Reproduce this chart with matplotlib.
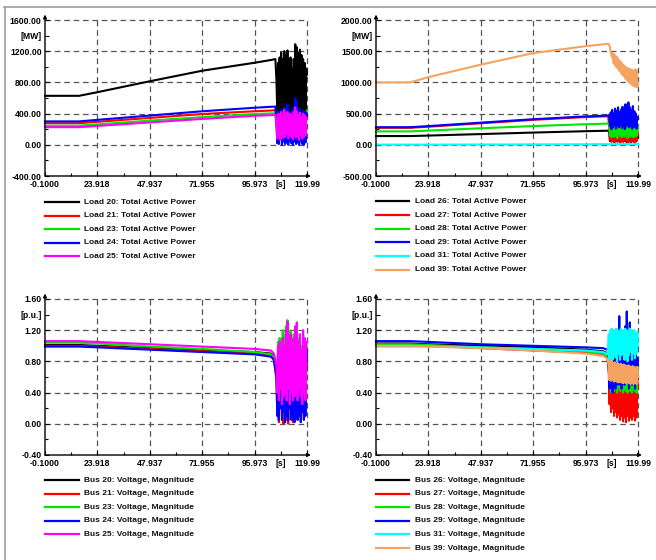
import numpy as np
import matplotlib
matplotlib.use('Agg')
import matplotlib.pyplot as plt
from matplotlib.lines import Line2D

plt.rcParams['font.family'] = ['Liberation Sans', 'DejaVu Sans']
FS = 6.0
FS_TICK = 6.2
W, H = 656, 560

# ---------------- shared axis data ----------------
X_TICKS = [-0.1, 23.918, 47.937, 71.955, 95.973, 119.99]
X_TICK_LABELS = ['-0.1000', '23.918', '47.937', '71.955', '95.973', '119.99']
X_UNIT = '[s]'
X_UNIT_POS = 107.98

COL_BLACK = '#000000'
COL_RED = '#ff0000'
COL_GREEN = '#00e600'
COL_BLUE = '#0000ff'
COL_MAGENTA = '#ff00ff'
COL_CYAN = '#00ffff'
COL_ORANGE = '#f4a460'

# ---------------- panel 1 : Load 20..25 active power ----------------
P1_YTICKS = [-400, 0, 400, 800, 1200, 1600]
P1_YLABELS = ['-400.00', '0.00', '400.00', '800.00', '1200.00', '1600.00']
P1_UNIT = '[MW]'
P1_UNIT_POS = 1400
P1_T_PRE = [-0.1, 15.5, 24.0, 48.0, 72.0, 96.0, 104.0, 105.5]
P1_OSC_START = 106.0
P1_NAMES = ['Load 20: Total Active Power', 'Load 21: Total Active Power',
            'Load 23: Total Active Power', 'Load 24: Total Active Power',
            'Load 25: Total Active Power']
P1_COLORS = [COL_BLACK, COL_RED, COL_GREEN, COL_BLUE, COL_MAGENTA]
load20_pre = [628, 628, 675, 815, 950, 1052, 1090, 1100]
load21_pre = [277, 277, 295, 345, 395, 430, 440, 445]
load23_pre = [245, 245, 262, 310, 355, 395, 403, 405]
load24_pre = [300, 300, 320, 375, 430, 475, 488, 490]
load25_pre = [226, 226, 242, 287, 332, 372, 380, 383]
load20_osc = [820, 420, 1050, 380, 1120, 450, 1180, 360, 1100, 420, 1200, 400, 1150, 380,
              1210, 440, 1060, 390, 1120, 420, 980, 370, 1100, 430, 1290, 400, 1250, 380,
              1180, 450, 1220, 410, 1150, 380, 1100, 430, 1050, 400, 980, 900]
load21_osc = [320, 120, 420, 100, 400, 150, 430, 110, 380, 130, 440, 100, 400, 140, 420,
              120, 380, 110, 420, 130, 360, 100, 430, 140, 460, 120, 440, 110, 400, 130,
              420, 100, 380, 120, 410, 110, 390, 130, 380, 370]
load23_osc = [300, 150, 400, 130, 380, 170, 410, 140, 360, 160, 420, 130, 380, 170, 400,
              150, 370, 140, 400, 160, 350, 130, 410, 170, 440, 150, 420, 140, 390, 160,
              410, 130, 380, 150, 400, 140, 390, 160, 430, 440]
load24_osc = [300, 20, 420, 10, 380, 60, 450, 0, 350, 40, 480, 10, 400, 30, 520, 0, 380,
              50, 430, 20, 360, 0, 480, 40, 600, 10, 550, 30, 420, 0, 460, 50, 390, 10,
              440, 0, 400, 30, 420, 380]
load25_osc = [250, 80, 400, 120, 380, 60, 420, 150, 350, 90, 450, 100, 380, 140, 420, 80,
              360, 130, 400, 100, 340, 70, 420, 120, 480, 90, 430, 110, 380, 60, 410, 130,
              360, 80, 400, 100, 380, 120, 350, 330]

# ---------------- panel 2 : Load 26..39 active power ----------------
P2_YTICKS = [-500, 0, 500, 1000, 1500, 2000]
P2_YLABELS = ['-500.00', '0.00', '500.00', '1000.00', '1500.00', '2000.00']
P2_UNIT = '[MW]'
P2_UNIT_POS = 1750
P2_T_PRE = [-0.1, 15.5, 24.0, 48.0, 72.0, 96.0, 104.0, 106.3]
P2_OSC_START = 106.8
P2_NAMES = ['Load 26: Total Active Power', 'Load 27: Total Active Power',
            'Load 28: Total Active Power', 'Load 29: Total Active Power',
            'Load 31: Total Active Power', 'Load 39: Total Active Power']
P2_COLORS = [COL_BLACK, COL_RED, COL_GREEN, COL_BLUE, COL_CYAN, COL_ORANGE]
load26_pre = [140, 140, 148, 172, 196, 218, 224, 226]
load27_pre = [272, 272, 290, 345, 400, 445, 455, 458]
load28_pre = [215, 215, 228, 265, 300, 330, 338, 340]
load29_pre = [282, 282, 300, 355, 410, 455, 465, 468]
load31_pre = [3, 3, 3, 5, 6, 8, 10, 10]
load39_pre = [1000, 1000, 1085, 1285, 1470, 1580, 1610, 1620]
load26_osc = [200, 60, 180, 50, 160, 80, 190, 40, 150, 70, 170, 50, 160, 60, 140, 40, 170,
              60, 150, 50, 180, 60, 150, 50, 140, 40, 160, 60, 150, 40, 130, 70, 170, 50,
              150, 40, 180, 60, 160, 120]
load27_osc = [300, 80, 250, 60, 260, 100, 280, 50, 220, 90, 260, 60, 230, 80, 200, 40, 250,
              70, 210, 50, 270, 80, 220, 60, 190, 40, 240, 70, 210, 50, 180, 80, 250, 60,
              220, 40, 260, 70, 230, 150]
load28_osc = [330, 150, 300, 120, 340, 180, 280, 130, 320, 160, 290, 110, 330, 170, 300,
              140, 340, 120, 280, 160, 310, 130, 290, 170, 330, 110, 300, 150, 340, 130,
              280, 160, 320, 120, 300, 150, 330, 140, 310, 250]
load29_osc = [480, 300, 520, 250, 560, 280, 500, 320, 580, 260, 540, 300, 600, 280, 520,
              330, 560, 270, 610, 300, 580, 250, 650, 290, 620, 320, 680, 280, 600, 300,
              560, 260, 620, 280, 540, 300, 500, 260, 450, 420]
load31_osc = [10, 12, 9, 14, 10, 12, 9, 11, 13, 10, 12, 10]
load39_osc = [1600, 1560, 1480, 1440, 1400, 1470, 1300, 1450, 1280, 1420, 1240, 1400, 1220,
              1360, 1180, 1340, 1150, 1310, 1120, 1280, 1100, 1260, 1060, 1240, 1040, 1230,
              1010, 1220, 990, 1210, 970, 1200, 950, 1190, 940, 1210, 930, 1200, 920, 1000]

# ---------------- panel 3 : Bus 20..25 voltage ----------------
P3_YTICKS = [-0.4, 0.0, 0.4, 0.8, 1.2, 1.6]
P3_YLABELS = ['-0.40', '0.00', '0.40', '0.80', '1.20', '1.60']
P3_UNIT = '[p.u.]'
P3_UNIT_POS = 1.4
P3_T_PRE = [-0.1, 15.5, 24.0, 48.0, 72.0, 96.0, 103.5, 104.8]
P3_OSC_START = 106.0
P3_NAMES = ['Bus 20: Voltage, Magnitude', 'Bus 21: Voltage, Magnitude',
            'Bus 23: Voltage, Magnitude', 'Bus 24: Voltage, Magnitude',
            'Bus 25: Voltage, Magnitude']
P3_COLORS = [COL_BLACK, COL_RED, COL_GREEN, COL_BLUE, COL_MAGENTA]
bus20_pre = [1.01, 1.01, 1.00, 0.97, 0.94, 0.92, 0.90, 0.86]
bus21_pre = [1.00, 1.00, 0.99, 0.96, 0.93, 0.90, 0.88, 0.84]
bus23_pre = [1.04, 1.04, 1.03, 0.99, 0.96, 0.92, 0.89, 0.85]
bus24_pre = [0.99, 0.99, 0.98, 0.95, 0.92, 0.89, 0.86, 0.82]
bus25_pre = [1.06, 1.06, 1.05, 1.02, 0.99, 0.96, 0.94, 0.90]
bus20_osc = [0.75, 0.30, 1.00, 0.25, 1.05, 0.35, 0.95, 0.25, 1.10, 0.30, 1.05, 0.35, 1.15,
             0.25, 1.25, 0.35, 1.05, 0.25, 1.10, 0.30, 0.95, 0.25, 1.10, 0.30, 1.15, 0.35,
             1.20, 0.25, 1.05, 0.35, 1.00, 0.25, 0.95, 0.30, 1.10, 0.35, 1.00, 0.25, 0.95, 0.90]
bus21_osc = [0.55, 0.15, 0.75, 0.02, 0.65, 0.20, 0.80, 0.10, 0.60, 0.00, 0.70, 0.15, 0.75,
             0.05, 0.60, 0.00, 0.80, 0.20, 0.65, 0.10, 0.75, 0.02, 0.70, 0.15, 0.85, 0.10,
             0.70, 0.05, 0.65, 0.20, 0.75, 0.10, 0.70, 0.15, 0.80, 0.10, 0.65, 0.20, 0.70, 0.80]
bus23_osc = [0.80, 0.35, 1.05, 0.30, 1.10, 0.40, 1.00, 0.30, 1.20, 0.35, 1.10, 0.40, 1.25,
             0.30, 1.33, 0.40, 1.10, 0.30, 1.20, 0.35, 1.00, 0.30, 1.15, 0.35, 1.20, 0.40,
             1.25, 0.30, 1.10, 0.40, 1.05, 0.30, 1.00, 0.35, 1.15, 0.40, 1.05, 0.30, 1.00, 0.95]
bus24_osc = [0.60, 0.10, 0.80, 0.05, 0.70, 0.20, 0.85, 0.05, 0.60, 0.15, 0.75, 0.02, 0.80,
             0.10, 0.70, 0.05, 0.85, 0.20, 0.65, 0.05, 0.80, 0.10, 0.70, 0.02, 0.90, 0.15,
             0.75, 0.05, 0.60, 0.10, 0.80, 0.02, 0.70, 0.15, 0.85, 0.05, 0.65, 0.10, 0.75, 0.95]
bus25_osc = [0.75, 0.40, 1.00, 0.30, 1.05, 0.45, 0.95, 0.25, 1.10, 0.35, 1.00, 0.40, 1.20,
             0.30, 1.31, 0.45, 1.05, 0.25, 1.15, 0.40, 0.95, 0.30, 1.10, 0.35, 1.25, 0.40,
             1.30, 0.30, 1.05, 0.45, 1.15, 0.35, 0.95, 0.25, 1.20, 0.40, 1.10, 0.30, 1.00, 1.05]

# ---------------- panel 4 : Bus 26..39 voltage ----------------
P4_YTICKS = [-0.4, 0.0, 0.4, 0.8, 1.2, 1.6]
P4_YLABELS = ['-0.40', '0.00', '0.40', '0.80', '1.20', '1.60']
P4_UNIT = '[p.u.]'
P4_UNIT_POS = 1.4
P4_T_PRE = [-0.1, 15.5, 24.0, 48.0, 72.0, 96.0, 104.0, 106.0]
P4_OSC_START = 106.6
P4_NAMES = ['Bus 26: Voltage, Magnitude', 'Bus 27: Voltage, Magnitude',
            'Bus 28: Voltage, Magnitude', 'Bus 29: Voltage, Magnitude',
            'Bus 31: Voltage, Magnitude', 'Bus 39: Voltage, Magnitude']
P4_COLORS = [COL_BLACK, COL_RED, COL_GREEN, COL_BLUE, COL_CYAN, COL_ORANGE]
bus26_pre = [1.03, 1.03, 1.02, 1.00, 0.98, 0.95, 0.93, 0.90]
bus27_pre = [1.01, 1.01, 1.00, 0.97, 0.94, 0.91, 0.88, 0.84]
bus28_pre = [1.02, 1.02, 1.01, 0.98, 0.96, 0.93, 0.90, 0.87]
bus29_pre = [1.06, 1.06, 1.05, 1.02, 1.00, 0.98, 0.97, 0.95]
bus31_pre = [0.99, 0.99, 0.99, 0.98, 0.96, 0.94, 0.92, 0.89]
bus39_pre = [1.00, 1.00, 0.99, 0.97, 0.94, 0.90, 0.87, 0.83]
bus26_osc = [0.75, 0.40, 0.80, 0.35, 0.78, 0.42, 0.76, 0.38, 0.80, 0.40, 0.75, 0.36, 0.78,
             0.42, 0.76, 0.38, 0.74, 0.40, 0.76, 0.35, 0.75, 0.40, 0.73, 0.38, 0.75, 0.36,
             0.74, 0.40, 0.72, 0.38, 0.74, 0.36, 0.73, 0.40, 0.72, 0.38, 0.74, 0.36, 0.72, 0.60]
bus27_osc = [0.65, 0.25, 0.62, 0.15, 0.66, 0.20, 0.55, 0.10, 0.63, 0.15, 0.60, 0.08, 0.55,
             0.12, 0.62, 0.05, 0.56, 0.10, 0.60, 0.03, 0.55, 0.08, 0.60, 0.02, 0.55, 0.10,
             0.60, 0.04, 0.55, 0.08, 0.60, 0.05, 0.56, 0.10, 0.55, 0.04, 0.60, 0.08, 0.55, 0.45]
bus28_osc = [0.78, 0.45, 0.82, 0.40, 0.80, 0.48, 0.78, 0.42, 0.82, 0.45, 0.78, 0.40, 0.80,
             0.46, 0.78, 0.42, 0.76, 0.45, 0.78, 0.40, 0.77, 0.44, 0.75, 0.42, 0.77, 0.40,
             0.76, 0.45, 0.74, 0.42, 0.76, 0.40, 0.75, 0.44, 0.74, 0.42, 0.76, 0.40, 0.74, 0.65]
bus29_osc = [0.85, 0.45, 0.95, 0.50, 1.00, 0.40, 0.90, 0.55, 1.05, 0.45, 0.95, 0.60, 1.20,
             0.50, 1.38, 0.55, 1.00, 0.45, 1.10, 0.60, 0.95, 0.50, 1.25, 0.55, 1.44, 0.60,
             1.15, 0.45, 1.30, 0.55, 1.00, 0.50, 0.95, 0.60, 1.05, 0.45, 0.90, 0.55, 0.85, 0.75]
bus31_osc = [1.15, 0.80, 1.20, 0.90, 1.22, 0.82, 1.18, 0.92, 1.20, 0.85, 1.22, 0.80, 1.20,
             0.90, 1.18, 0.82, 1.22, 0.88, 1.20, 0.92, 1.18, 0.82, 1.22, 0.90, 1.20, 0.80,
             1.18, 0.88, 1.22, 0.92, 1.20, 0.82, 1.18, 0.90, 1.20, 0.84, 1.15, 0.90, 1.18, 1.00]
bus39_osc = [0.75, 0.56, 0.80, 0.55, 0.82, 0.56, 0.78, 0.54, 0.79, 0.55, 0.77, 0.54, 0.78,
             0.53, 0.76, 0.54, 0.77, 0.53, 0.75, 0.52, 0.76, 0.53, 0.75, 0.52, 0.74, 0.53,
             0.75, 0.52, 0.74, 0.51, 0.73, 0.52, 0.74, 0.51, 0.73, 0.52, 0.72, 0.51, 0.73, 0.60]

PANELS = [
    dict(box=(45, 20, 307, 176), yticks=P1_YTICKS, ylabels=P1_YLABELS, unit=P1_UNIT,
         unit_pos=P1_UNIT_POS, t_pre=P1_T_PRE, osc_start=P1_OSC_START,
         names=P1_NAMES, colors=P1_COLORS,
         pre=[load20_pre, load21_pre, load23_pre, load24_pre, load25_pre],
         osc=[load20_osc, load21_osc, load23_osc, load24_osc, load25_osc],
         leg_x=(45, 79, 84), leg_y0=202),
    dict(box=(376, 20, 638, 176), yticks=P2_YTICKS, ylabels=P2_YLABELS, unit=P2_UNIT,
         unit_pos=P2_UNIT_POS, t_pre=P2_T_PRE, osc_start=P2_OSC_START,
         names=P2_NAMES, colors=P2_COLORS,
         pre=[load26_pre, load27_pre, load28_pre, load29_pre, load31_pre, load39_pre],
         osc=[load26_osc, load27_osc, load28_osc, load29_osc, load31_osc, load39_osc],
         leg_x=(376, 409, 415), leg_y0=201.5),
    dict(box=(45, 299, 307, 455), yticks=P3_YTICKS, ylabels=P3_YLABELS, unit=P3_UNIT,
         unit_pos=P3_UNIT_POS, t_pre=P3_T_PRE, osc_start=P3_OSC_START,
         names=P3_NAMES, colors=P3_COLORS,
         pre=[bus20_pre, bus21_pre, bus23_pre, bus24_pre, bus25_pre],
         osc=[bus20_osc, bus21_osc, bus23_osc, bus24_osc, bus25_osc],
         leg_x=(45, 79, 84), leg_y0=480),
    dict(box=(376, 299, 638, 455), yticks=P4_YTICKS, ylabels=P4_YLABELS, unit=P4_UNIT,
         unit_pos=P4_UNIT_POS, t_pre=P4_T_PRE, osc_start=P4_OSC_START,
         names=P4_NAMES, colors=P4_COLORS,
         pre=[bus26_pre, bus27_pre, bus28_pre, bus29_pre, bus31_pre, bus39_pre],
         osc=[bus26_osc, bus27_osc, bus28_osc, bus29_osc, bus31_osc, bus39_osc],
         leg_x=(376, 409, 415), leg_y0=480),
]
LEG_DY = 13.6

fig = plt.figure(figsize=(W / 100, H / 100), dpi=100)
fig.patch.set_facecolor('white')

def fx(px):
    return px / W

def fy(py):
    return 1 - py / H

# outer frame
fig.add_artist(Line2D([fx(4), fx(656)], [fy(7), fy(7)], color='#a0a0a0', lw=1.2))
fig.add_artist(Line2D([fx(4.5), fx(4.5)], [fy(7), fy(560)], color='#a0a0a0', lw=1.2))

grid_kw = dict(color='#555555', lw=0.9, ls=(0, (4.5, 3)), zorder=0.5, clip_on=False)

for p in PANELS:
    x0, y0, x1, y1 = p['box']
    ax = fig.add_axes([fx(x0), fy(y1), (x1 - x0) / W, (y1 - y0) / H])
    ax.set_facecolor('white')
    yt = p['yticks']
    ax.set_xlim(X_TICKS[0], X_TICKS[-1])
    ax.set_ylim(yt[0], yt[-1])
    for s in ['top', 'right', 'left', 'bottom']:
        ax.spines[s].set_visible(False)

    # grid lines (dashed) at numeric ticks, including top and right borders
    for xv in X_TICKS[1:]:
        ax.axvline(xv, **grid_kw)
    for yv in yt[1:]:
        ax.axhline(yv, **grid_kw)

    # axes with arrows
    ax.annotate('', xy=(0, 1.035), xytext=(0, 0), xycoords='axes fraction',
                arrowprops=dict(arrowstyle='-|>', lw=1.0, color='k',
                                mutation_scale=5, shrinkA=0, shrinkB=0), annotation_clip=False)
    ax.annotate('', xy=(1.015, 0), xytext=(0, 0), xycoords='axes fraction',
                arrowprops=dict(arrowstyle='-|>', lw=1.0, color='k',
                                mutation_scale=5, shrinkA=0, shrinkB=0), annotation_clip=False)

    # ticks
    xt = X_TICKS[:-1] + [X_UNIT_POS] + [X_TICKS[-1]]
    xl = X_TICK_LABELS[:-1] + [X_UNIT] + [X_TICK_LABELS[-1]]
    ax.set_xticks(xt)
    ax.set_xticklabels(xl)
    ax.set_xticks([(X_TICKS[i] + X_TICKS[i + 1]) / 2 for i in range(4)], minor=True)
    ytk = yt[:-1] + [p['unit_pos']] + [yt[-1]]
    ylb = p['ylabels'][:-1] + [p['unit']] + [p['ylabels'][-1]]
    ax.set_yticks(ytk)
    ax.set_yticklabels(ylb)
    ax.set_yticks([(yt[i] + yt[i + 1]) / 2 for i in range(4)], minor=True)
    ax.tick_params(axis='both', which='major', direction='in', length=3, width=0.8,
                   labelsize=FS_TICK, color='k')
    ax.tick_params(axis='both', which='minor', direction='in', length=2, width=0.8, color='k')
    ax.tick_params(axis='x', which='major', pad=3.2)
    ax.tick_params(axis='y', which='major', pad=2.4)
    for lab in ax.get_xticklabels() + ax.get_yticklabels():
        lab.set_fontweight('bold')

    # data
    for name, col, pre, osc in zip(p['names'], p['colors'], p['pre'], p['osc']):
        t = np.concatenate([p['t_pre'], np.linspace(p['osc_start'], X_TICKS[-1], len(osc))])
        v = np.concatenate([pre, osc])
        ax.plot(t, v, color=col, lw=1.5, zorder=2, clip_on=False)

    # legend
    lx0, lx1, tx = p['leg_x']
    for i, (name, col) in enumerate(zip(p['names'], p['colors'])):
        yy = p['leg_y0'] + i * LEG_DY
        fig.add_artist(Line2D([fx(lx0), fx(lx1)], [fy(yy), fy(yy)], color=col, lw=1.6))
        fig.text(fx(tx), fy(yy), name, fontsize=FS, fontweight='bold',
                 va='center', ha='left', color='#111111')

fig.savefig('out.png', dpi=100, facecolor='white')
